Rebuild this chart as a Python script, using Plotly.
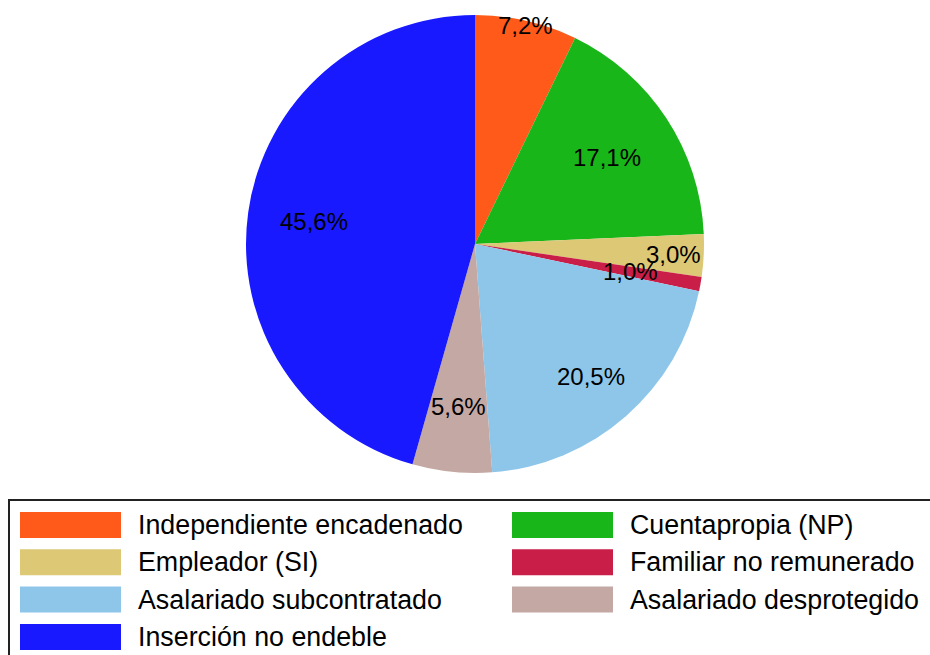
import math
import plotly.graph_objects as go

categories = [
    "Independiente encadenado",
    "Cuentapropia (NP)",
    "Empleador (SI)",
    "Familiar no remunerado",
    "Asalariado subcontratado",
    "Asalariado desprotegido",
    "Inserción no endeble",
]
values = [7.2, 17.1, 3.0, 1.0, 20.5, 5.6, 45.6]
labels_text = ["7,2%", "17,1%", "3,0%", "1,0%", "20,5%", "5,6%", "45,6%"]
colors = ["#FF5A19", "#19B619", "#DCC875", "#C81E48", "#8EC6EA", "#C4A8A3", "#1919FF"]
label_radius = [0.98, 0.69, 0.87, 0.69, 0.77, 0.715, 0.71]

W, H = 930, 655
cx, cy, r = 475, 244, 229

fig = go.Figure()
fig.add_trace(go.Pie(
    labels=categories, values=values, sort=False, direction="clockwise",
    rotation=0, marker=dict(colors=colors, line=dict(width=0)),
    textinfo="none", showlegend=False, hoverinfo="label+percent",
    domain=dict(x=[(cx - r) / W, (cx + r) / W], y=[1 - (cy + r) / H, 1 - (cy - r) / H]),
))

annotations = []
total = sum(values)
cum = 0.0
for v, t, rf in zip(values, labels_text, label_radius):
    mid = (cum + v / 2) / total * 2 * math.pi
    cum += v
    px = cx + rf * r * math.sin(mid)
    py = cy - rf * r * math.cos(mid)
    annotations.append(dict(
        x=px / W, y=1 - py / H, xref="paper", yref="paper", text=t,
        showarrow=False, xanchor="center", yanchor="middle",
        font=dict(family="Liberation Sans, Arial", size=24, color="black"),
    ))

shapes = []
# legend frame
shapes.append(dict(type="rect", xref="paper", yref="paper",
                   x0=9 / W, x1=1.02, y0=-0.05, y1=1 - 500 / H,
                   line=dict(color="#222222", width=2), fillcolor="rgba(0,0,0,0)"))
col_x = [20, 512]
text_x = [136, 628]
row_top0, row_step, sw_w, sw_h = 512, 37.3, 101, 26
for i, (cat, col) in enumerate(zip(categories, colors)):
    row, c = divmod(i, 2)
    top = row_top0 + row * row_step
    shapes.append(dict(type="rect", xref="paper", yref="paper",
                       x0=col_x[c] / W, x1=(col_x[c] + sw_w) / W,
                       y0=1 - (top + sw_h) / H, y1=1 - top / H,
                       line=dict(width=0), fillcolor=col))
    annotations.append(dict(
        x=text_x[c] / W, y=1 - (top + sw_h / 2) / H, xref="paper", yref="paper",
        text=cat, showarrow=False, xanchor="left", yanchor="middle",
        font=dict(family="Liberation Sans, Arial", size=26.8, color="black"),
    ))

fig.update_layout(
    width=W, height=H, margin=dict(l=0, r=0, t=0, b=0),
    paper_bgcolor="white", plot_bgcolor="white",
    annotations=annotations, shapes=shapes, showlegend=False,
)
fig.write_html(
    "out.html",
    config={"displayModeBar": False},
    post_script="document.body.style.margin='0';document.body.style.padding='0';"
                "document.body.style.overflow='hidden';",
)
